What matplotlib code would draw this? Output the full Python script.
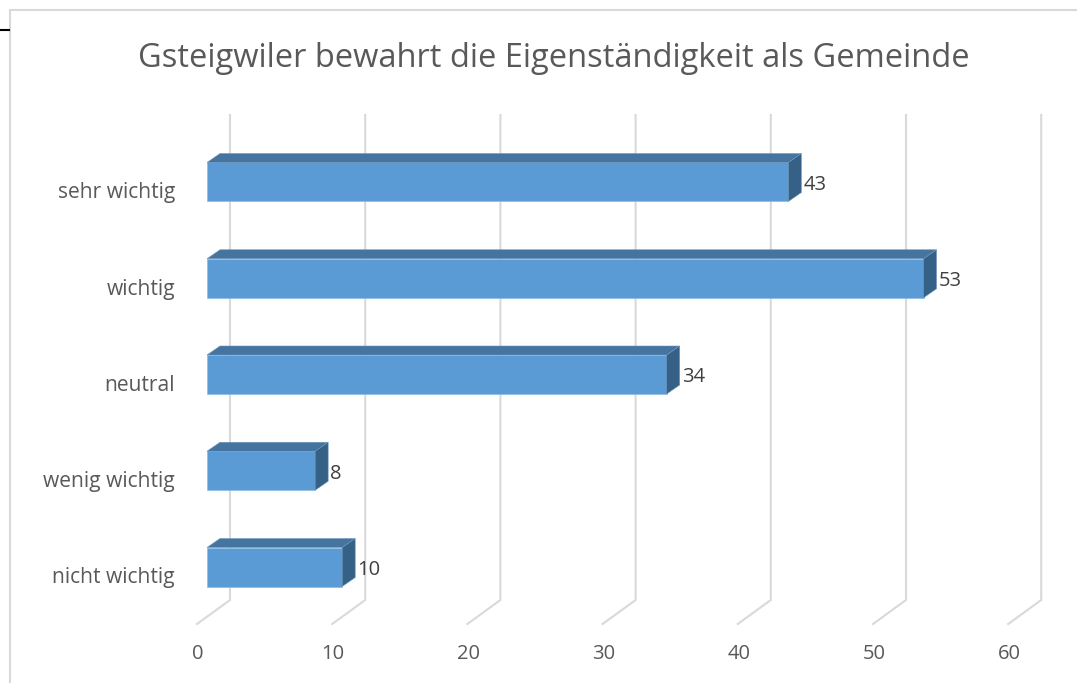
import matplotlib
matplotlib.use("Agg")
import matplotlib.pyplot as plt
from matplotlib.lines import Line2D
from matplotlib.patches import Polygon

plt.rcParams["font.family"] = ["Open Sans", "DejaVu Sans"]

# Data
categories = ["sehr wichtig", "wichtig", "neutral", "wenig wichtig", "nicht wichtig"]
values = [43, 53, 34, 8, 10]
x_ticks = [0, 10, 20, 30, 40, 50, 60]
title = "Gsteigwiler bewahrt die Eigenständigkeit als Gemeinde"

W, H = 1077, 683
px_per_unit = 13.52
px_per_cat = 96.25
x0_px, y0_px = 207, 182

c_front = "#5B9BD5"
c_top = "#44749F"
c_side = "#366186"
c_grid = "#D9D9D9"
c_text = "#595959"
c_label = "#404040"

fig = plt.figure(figsize=(W / 100, H / 100), dpi=100)
ax = fig.add_axes([0, 0, 1, 1])
ax.set_xlim(-x0_px / px_per_unit, (W - x0_px) / px_per_unit)
ax.set_ylim((H - y0_px) / px_per_cat, -y0_px / px_per_cat)
ax.axis("off")


def dx(px):
    return px / px_per_unit


def dy(px):
    return px / px_per_cat


# gridlines with the 3d floor stub
for v in x_ticks:
    back = v + dx(23)
    front = v + dx(-10)
    ax.plot([back, back, front], [dy(115 - y0_px), dy(600 - y0_px), dy(624 - y0_px)],
            color=c_grid, lw=1.5, solid_joinstyle="miter", zorder=1)
    ax.text(front + dx(1), dy(654 - y0_px), str(v), ha="center", va="center", fontsize=14.5, color=c_text)

half = dy(19.5)
depth_x, depth_y = dx(13), dy(9)
for i, (cat, v) in enumerate(zip(categories, values)):
    ax.add_patch(Polygon([(0, i - half), (v, i - half), (v, i + half), (0, i + half)],
                         fc=c_front, ec="#8DBBE3", lw=0.5, zorder=3))
    ax.add_patch(Polygon([(0, i - half), (depth_x, i - half - depth_y), (v + depth_x, i - half - depth_y), (v, i - half)],
                         fc=c_top, ec="#6F97BC", lw=0.4, zorder=3))
    ax.add_patch(Polygon([(v, i - half), (v + depth_x, i - half - depth_y), (v + depth_x, i + half - depth_y), (v, i + half)],
                         fc=c_side, ec="#6F97BC", lw=0.4, zorder=3))
    ax.text(v + dx(15), i + dy(3), str(v), ha="left", va="center", fontsize=14.5, color=c_label, zorder=4)
    ax.text(dx(175 - x0_px), i + dy(11), cat, ha="right", va="center", fontsize=15.1, color=c_text)

ax.text(dx(554 - x0_px), dy(59 - y0_px), title, ha="center", va="center", fontsize=23.5, color=c_text)

# outer frame of the pasted chart
fig.add_artist(Line2D([10 / W, 10 / W, 1], [0, 1 - 10 / H, 1 - 10 / H], color=c_grid, lw=1.5))
fig.add_artist(Line2D([0, 9 / W], [1 - 30 / H, 1 - 30 / H], color="black", lw=1.5))

fig.savefig("out.png", dpi=100)
